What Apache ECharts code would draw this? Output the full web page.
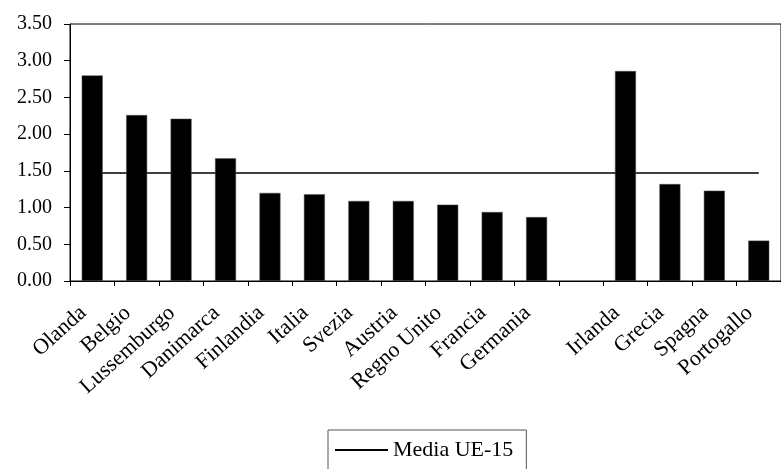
<!DOCTYPE html>
<html>
<head>
<meta charset="utf-8">
<script src="https://cdn.jsdelivr.net/npm/echarts@6/dist/echarts.min.js"></script>
<style>html,body{margin:0;padding:0;background:#fff}#c{width:781px;height:469px}</style>
</head>
<body>
<div id="c"></div>
<script>
const categories = ['Olanda','Belgio','Lussemburgo','Danimarca','Finlandia','Italia','Svezia','Austria','Regno Unito','Francia','Germania','','Irlanda','Grecia','Spagna','Portogallo'];
const values = [2.80, 2.26, 2.21, 1.67, 1.20, 1.18, 1.09, 1.09, 1.04, 0.94, 0.87, null, 2.86, 1.32, 1.23, 0.55];
const mediaUE15 = 1.47;
const mediaValues = categories.map(() => mediaUE15);
const yTicks = {min: 0, max: 3.5, interval: 0.5};

const font = 'Liberation Serif';
const chart = echarts.init(document.getElementById('c'), null, {renderer: 'canvas'});
chart.setOption({
  animation: false,
  backgroundColor: '#fff',
  textStyle: {fontFamily: font, color: '#000'},
  grid: {left: 70, top: 24, right: -9, bottom: 188, show: true, borderColor: '#000', borderWidth: 1},
  legend: {
    data: [{name: 'Media UE-15', icon: 'path://M0,0 L100,0 L100,4 L0,4 Z'}],
    left: 328, top: 430,
    padding: [9, 13, 30, 7],
    borderColor: '#555', borderWidth: 1,
    itemWidth: 53, itemHeight: 14, itemGap: 9,
    textStyle: {fontFamily: font, fontSize: 22, color: '#000'}
  },
  xAxis: {
    type: 'category',
    data: categories,
    boundaryGap: true,
    axisLine: {lineStyle: {color: '#000', width: 1}},
    axisTick: {show: true, length: 5, alignWithLabel: false, interval: 0, lineStyle: {color: '#000'}},
    axisLabel: {interval: 0, rotate: 42, fontFamily: font, fontSize: 22, color: '#000', margin: 21, padding: [0, 12, 0, 0]},
    splitLine: {show: false}
  },
  yAxis: {
    type: 'value',
    min: yTicks.min, max: yTicks.max, interval: yTicks.interval,
    axisLine: {show: true, lineStyle: {color: '#000', width: 1}},
    axisTick: {show: true, length: 6, lineStyle: {color: '#000'}},
    axisLabel: {fontFamily: font, fontSize: 20, color: '#000', margin: 18, formatter: v => v.toFixed(2)},
    splitLine: {show: false}
  },
  series: [
    {
      name: 'Media UE-15', type: 'line', data: mediaValues, symbol: 'none', z: 1,
      lineStyle: {color: '#000', width: 1.5}, itemStyle: {color: '#000'}
    },
    {
      name: 'valori', type: 'bar', data: values, barWidth: 21, z: 2,
      itemStyle: {color: '#000', borderColor: '#555', borderWidth: 0.5}
    }
  ]
});
</script>
</body>
</html>
